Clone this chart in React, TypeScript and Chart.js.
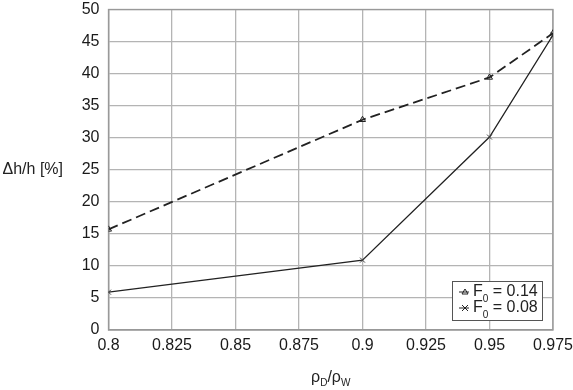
import React, { useEffect, useRef } from "react";
import { Chart, registerables } from "chart.js";
Chart.register(...registerables);

const xValues = [0.8, 0.9, 0.95, 0.975];
const seriesF014 = [15.7, 32.8, 39.4, 46.3];
const seriesF008 = [5.9, 10.9, 30.1, 46.0];
const legendLabels = ["0.14", "0.08"];
const xTicks = [0.8, 0.825, 0.85, 0.875, 0.9, 0.925, 0.95, 0.975];

const FONT = "'Liberation Sans', Arial, sans-serif";

const decorPlugin = {
  id: "decor",
  afterDraw(chart: any) {
    const ctx = chart.ctx;
    const a = chart.chartArea;
    ctx.save();
    ctx.fillStyle = "#222";
    // Y title
    ctx.font = `16px ${FONT}`;
    ctx.textBaseline = "middle";
    ctx.textAlign = "left";
    ctx.fillText("Δh/h [%]", a.left - 106, (a.top + a.bottom) / 2);
    // X title with subscripts
    const cx = (a.left + a.right) / 2;
    const ty = a.bottom + 52;
    const parts: [string, boolean][] = [["ρ", false], ["D", true], ["/ρ", false], ["W", true]];
    let total = 0;
    for (const [t, sub] of parts) {
      ctx.font = sub ? `10px ${FONT}` : `16px ${FONT}`;
      total += ctx.measureText(t).width;
    }
    let x = cx - total / 2;
    ctx.textAlign = "left";
    ctx.textBaseline = "alphabetic";
    for (const [t, sub] of parts) {
      ctx.font = sub ? `10px ${FONT}` : `16px ${FONT}`;
      ctx.fillText(t, x, sub ? ty + 4 : ty);
      x += ctx.measureText(t).width;
    }
    // Legend box
    const bw = 90, bh = 39;
    const bx = Math.round(a.right - 11 - bw);
    const by = Math.round(a.bottom - 10 - bh);
    ctx.fillStyle = "#fff";
    ctx.fillRect(bx, by, bw, bh);
    ctx.strokeStyle = "#555";
    ctx.lineWidth = 1;
    ctx.strokeRect(bx + 0.5, by + 0.5, bw, bh);
    const rows = [by + 11, by + 27];
    for (let i = 0; i < 2; i++) {
      const ry = rows[i];
      ctx.strokeStyle = "#222";
      ctx.lineWidth = 1;
      ctx.beginPath();
      ctx.moveTo(bx + 7, ry);
      ctx.lineTo(bx + 17, ry);
      ctx.stroke();
      const mx = bx + 13;
      ctx.beginPath();
      if (i === 0) {
        ctx.moveTo(mx, ry - 3);
        ctx.lineTo(mx + 3, ry + 2);
        ctx.lineTo(mx - 3, ry + 2);
        ctx.closePath();
      } else {
        ctx.moveTo(mx - 3, ry - 3);
        ctx.lineTo(mx + 3, ry + 3);
        ctx.moveTo(mx + 3, ry - 3);
        ctx.lineTo(mx - 3, ry + 3);
      }
      ctx.stroke();
      ctx.fillStyle = "#222";
      ctx.font = `16px ${FONT}`;
      ctx.textBaseline = "middle";
      let tx = bx + 21;
      ctx.fillText("F", tx, ry);
      tx += ctx.measureText("F").width;
      ctx.font = `10px ${FONT}`;
      ctx.fillText("0", tx, ry + 7);
      tx += ctx.measureText("0").width;
      ctx.font = `16px ${FONT}`;
      ctx.fillText(" = " + legendLabels[i], tx, ry);
    }
    ctx.restore();
  },
};

export default function App() {
  const ref = useRef<HTMLCanvasElement>(null);
  useEffect(() => {
    const chart = new Chart(ref.current!, {
      type: "scatter",
      data: {
        datasets: [
          {
            label: "F0 = 0.14",
            data: xValues.map((x, i) => ({ x, y: seriesF014[i] })),
            showLine: true,
            borderColor: "#222",
            borderWidth: 1.8,
            borderDash: [10, 5],
            pointStyle: "triangle",
            pointRadius: 3.5,
            pointBorderWidth: 1,
            pointBorderColor: "#222",
            pointBackgroundColor: "rgba(255,255,255,0)",
          },
          {
            label: "F0 = 0.08",
            data: xValues.map((x, i) => ({ x, y: seriesF008[i] })),
            showLine: true,
            borderColor: "#222",
            borderWidth: 1.3,
            pointStyle: "crossRot",
            pointRadius: 3.5,
            pointBorderWidth: 1,
            pointBorderColor: "#444",
          },
        ],
      },
      options: {
        animation: false,
        responsive: false,
        layout: { padding: { left: 0, top: 9.5, right: 20, bottom: 0 } },
        plugins: { legend: { display: false }, tooltip: { enabled: false } },
        scales: {
          x: {
            type: "linear",
            min: 0.8,
            max: 0.975,
            afterBuildTicks: (s: any) => {
              s.ticks = xTicks.map((v) => ({ value: v }));
            },
            afterFit: (s: any) => {
              s.height = 60;
              s.paddingLeft = 0;
              s.paddingRight = 0;
            },
            ticks: {
              color: "#1a1a1a",
              font: { family: FONT, size: 16 },
              padding: 6,
              maxRotation: 0,
              callback: (v: any) => String(Number(v.toFixed(3))),
            },
            grid: { color: "#b4b4b4", lineWidth: 1.3, drawTicks: false },
            border: { color: "#999", width: 1.3 },
          },
          y: {
            min: 0,
            max: 50,
            ticks: {
              stepSize: 5,
              color: "#1a1a1a",
              font: { family: FONT, size: 16 },
              padding: 9,
            },
            afterFit: (s: any) => {
              s.width = 108.5;
              s.paddingTop = 0;
              s.paddingBottom = 0;
            },
            grid: { color: "#b4b4b4", lineWidth: 1.3, drawTicks: false },
            border: { color: "#999", width: 1.3 },
          },
        },
      },
      plugins: [
        {
          id: "frame",
          beforeDatasetsDraw(chart: any) {
            const a = chart.chartArea;
            const c = chart.ctx;
            c.save();
            c.strokeStyle = "#999";
            c.lineWidth = 1.3;
            c.strokeRect(a.left, a.top, a.right - a.left, a.bottom - a.top);
            c.restore();
          },
        },
        decorPlugin,
      ],
    } as any);
    return () => chart.destroy();
  }, []);
  return (
    <div style={{ position: "fixed", left: 0, top: 0, width: 573, height: 390, background: "#fff" }}>
      <canvas ref={ref} width={573} height={390} />
    </div>
  );
}
